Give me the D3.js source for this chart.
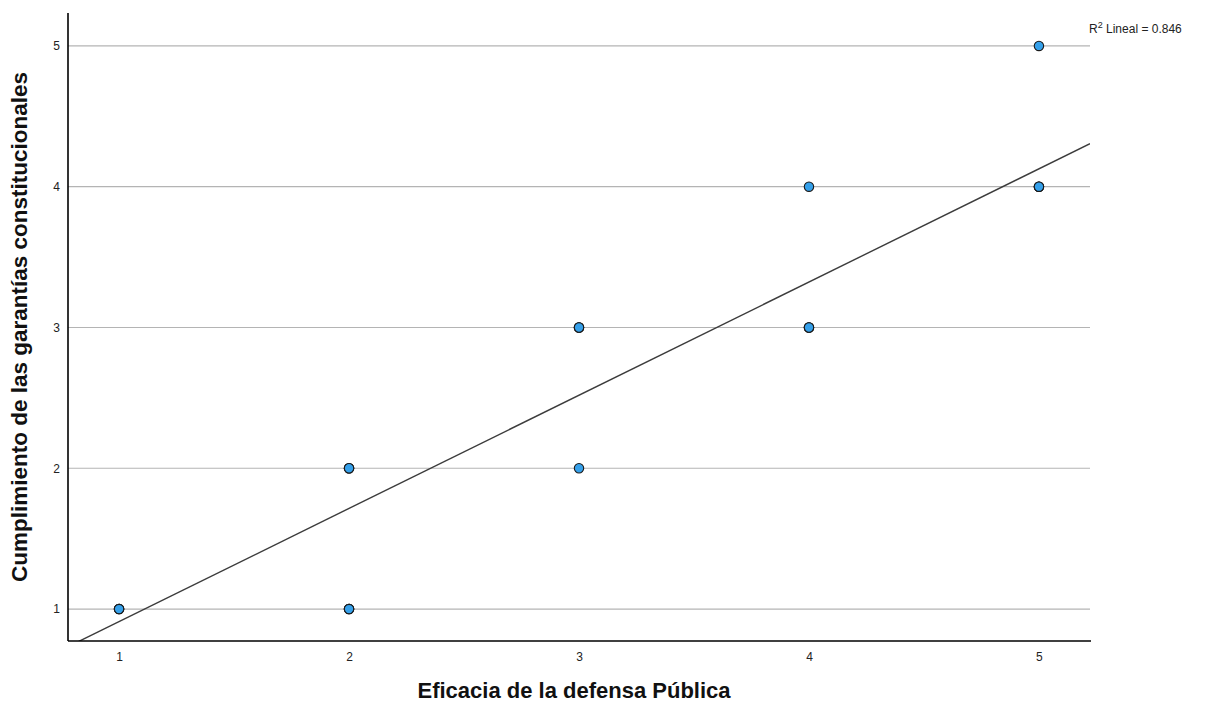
<!DOCTYPE html>
<html>
<head>
<meta charset="utf-8">
<script src="https://cdn.jsdelivr.net/npm/d3@7"></script>
<style>
  html, body { margin: 0; padding: 0; background: #fff; }
  svg { display: block; font-family: Arial, "Liberation Sans", sans-serif; }
</style>
</head>
<body>
<svg id="chart" width="1212" height="709"></svg>
<script>
// Data
const xValues = [1, 2, 2, 3, 3, 4, 4, 5, 5];
const yValues = [1, 1, 2, 2, 3, 3, 4, 4, 5];
const counts  = [3, 3, 3, 1, 3, 3, 1, 3, 1]; // overlapping observations (approx.)
const xTicks = [1, 2, 3, 4, 5];
const yTicks = [1, 2, 3, 4, 5];
const fitIntercept = 0.107;
const fitSlope = 0.804;
const r2Label = "0.846";
const xTitle = "Eficacia de la defensa Pública";
const yTitle = "Cumplimiento de las garantías constitucionales";

(function () {
const svg = d3.select("#chart");
const pLeft = 68, pRight = 1090, pTop = 13, pBottom = 641;

const x = d3.scaleLinear().domain([0.778, 5.222]).range([pLeft, pRight]);
const y = d3.scaleLinear().domain([0.773, 5.234]).range([pBottom, pTop]);

// gridlines
svg.append("g").selectAll("line").data(yTicks).join("line")
  .attr("x1", pLeft).attr("x2", pRight)
  .attr("y1", d => y(d)).attr("y2", d => y(d))
  .attr("stroke", "#b4b4b4").attr("stroke-width", 1.2);

// regression line clipped to plot
svg.append("clipPath").attr("id", "plotclip")
  .append("rect").attr("x", pLeft).attr("y", pTop).attr("width", pRight - pLeft).attr("height", pBottom - pTop);
const xd = x.domain();
svg.append("line")
  .attr("clip-path", "url(#plotclip)")
  .attr("x1", x(xd[0])).attr("y1", y(fitIntercept + fitSlope * xd[0]))
  .attr("x2", x(xd[1])).attr("y2", y(fitIntercept + fitSlope * xd[1]))
  .attr("stroke", "#3c3c3c").attr("stroke-width", 1.4);

// axes
const xAxis = d3.axisBottom(x).tickValues(xTicks).tickSize(0).tickPadding(11).tickFormat(d3.format("d"));
const gx = svg.append("g").attr("transform", `translate(0,${pBottom})`).call(xAxis);
gx.select(".domain").attr("stroke", "#000").attr("stroke-width", 1.6).attr("d", `M${pLeft},0H${pRight + 1}`);
gx.selectAll("text").attr("font-size", 12).attr("fill", "#222");

const yAxis = d3.axisLeft(y).tickValues(yTicks).tickSize(0).tickPadding(8).tickFormat(d3.format("d"));
const gy = svg.append("g").attr("transform", `translate(${pLeft},0)`).call(yAxis);
gy.select(".domain").attr("stroke", "#000").attr("stroke-width", 1.6).attr("d", `M0,${pTop}V${pBottom}`);
gy.selectAll("text").attr("font-size", 12).attr("fill", "#222");

// points (overlapping duplicates darken the outline)
const pts = [];
xValues.forEach((xv, i) => { for (let k = 0; k < counts[i]; k++) pts.push({x: xv, y: yValues[i]}); });
svg.append("g").selectAll("circle").data(pts).join("circle")
  .attr("cx", d => x(d.x)).attr("cy", d => y(d.y)).attr("r", 4.7)
  .attr("fill", "#35a0ea").attr("stroke", "#1a1a1a").attr("stroke-width", 1.1);

// titles
svg.append("text").attr("x", 574).attr("y", 698)
  .attr("text-anchor", "middle").attr("font-size", 22).attr("font-weight", "bold").attr("fill", "#111")
  .text(xTitle);
svg.append("text").attr("transform", `translate(27,${(pTop + pBottom) / 2}) rotate(-90)`)
  .attr("text-anchor", "middle").attr("font-size", 22.5).attr("font-weight", "bold").attr("fill", "#111")
  .text(yTitle);

// R2 label
const rt = svg.append("text").attr("x", 1089).attr("y", 33).attr("font-size", 12).attr("fill", "#222");
rt.append("tspan").text("R");
rt.append("tspan").attr("font-size", 9).attr("dy", -5).text("2");
rt.append("tspan").attr("dy", 5).text(" Lineal = " + r2Label);
})();
</script>
</body>
</html>
